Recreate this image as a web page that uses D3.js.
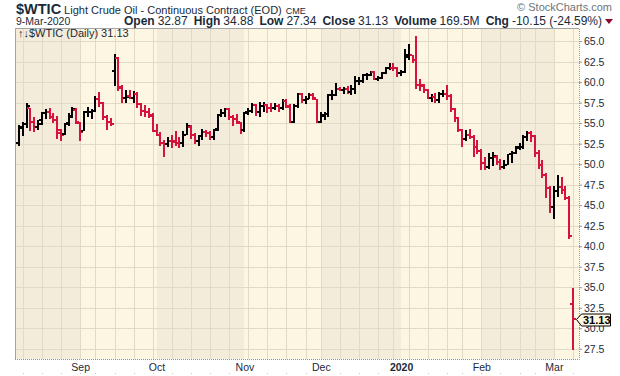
<!DOCTYPE html>
<html>
<head>
<meta charset="utf-8">
<script src="https://cdn.jsdelivr.net/npm/d3@7"></script>
<style>
    body { margin: 0; background: #ffffff; }
    svg { display: block; font-family: "Liberation Sans", Arial, sans-serif; }
</style>
</head>
<body>
<svg id="chart" width="620" height="376"></svg>
<script>
// trading days Aug 9 2019 .. Mar 9 2020 (weekdays minus exchange holidays)
const holidays = ['2019-09-02', '2019-11-28', '2019-12-25', '2020-01-01', '2020-01-20', '2020-02-17'];

const open = [
    52.6, 54.4, 54.9, 56.8, 55.2, 54.5, 55.4, 56.2, 56.3, 55.7, 55.4, 53.8, 53.7, 55.0, 55.9, 56.6,
    55.0, 54.1, 56.3, 56.3, 56.5, 57.9, 57.4, 55.8, 55.1, 61.4, 62.9, 59.4, 58.1, 58.3, 58.1, 58.6, 57.3, 56.5, 56.4, 56.0,
    54.1, 53.6, 52.6, 52.5, 52.8, 52.8, 52.6, 52.6, 53.6, 54.5, 53.6, 52.8, 53.4, 53.9, 53.8, 53.3, 54.3, 56.0, 56.2, 56.7, 55.8, 55.5, 55.0,
    54.2, 56.3, 56.5, 57.2, 56.4, 57.1, 57.2, 56.9, 56.8, 57.1, 56.8, 57.7, 57.0, 55.2, 57.1, 58.6, 57.8, 58.0, 58.4, 57.9,
    55.2, 55.9, 56.1, 58.4, 58.4, 59.2, 59.0, 59.2, 58.8, 59.2, 60.1, 60.2, 60.9, 60.9, 61.2, 60.4, 60.5, 61.1, 61.7, 61.7, 61.7,
    61.1, 61.2, 63.3, 63.3, 62.7, 59.6, 59.6, 59.0, 58.1, 58.2, 57.8, 58.5, 58.5, 58.3, 56.7, 55.6, 54.2, 53.1, 53.5, 53.3, 52.1,
    51.6, 50.1, 49.6, 50.7, 50.9, 50.3, 49.6, 49.9, 51.2, 51.4, 52.0, 52.1, 53.3, 53.8, 53.4, 51.4, 49.9, 48.7, 47.1,
    44.8, 46.7, 47.2, 46.8, 45.9, 32.9
];
const high = [
    54.8, 55.1, 57.5, 56.9, 55.7, 55.4, 56.4, 56.7, 56.9, 56.2, 55.9, 54.3, 55.0, 56.2, 57.0, 56.8,
    55.1, 56.5, 57.0, 56.7, 58.3, 58.8, 57.6, 56.0, 55.6, 63.4, 63.1, 59.7, 59.0, 59.0, 58.9, 58.8, 57.4, 57.2, 56.9, 56.2,
    54.9, 53.9, 52.9, 53.3, 53.5, 54.0, 53.3, 54.1, 55.0, 54.8, 53.8, 53.5, 54.3, 54.2, 54.1, 54.3, 56.1, 56.7, 56.9, 56.8, 56.0, 56.1, 55.2,
    56.3, 56.9, 57.5, 57.3, 57.6, 57.6, 57.3, 57.4, 57.5, 57.3, 57.9, 58.0, 57.3, 57.3, 58.7, 58.7, 58.3, 58.7, 58.7, 58.0,
    56.3, 56.3, 58.6, 59.0, 59.9, 59.4, 59.4, 59.5, 59.6, 60.7, 60.6, 61.0, 61.1, 61.4, 61.4, 60.7, 61.2, 61.8, 62.3, 62.3, 61.9,
    61.5, 64.1, 64.7, 63.3, 65.65, 60.4, 59.8, 59.2, 58.6, 58.7, 58.8, 59.0, 59.7, 58.5, 56.8, 55.8, 54.3, 54.2, 54.3, 53.6, 52.9,
    51.9, 50.9, 51.4, 51.5, 51.1, 50.6, 50.5, 51.3, 51.6, 52.2, 52.6, 53.5, 54.0, 54.0, 53.5, 51.7, 50.5, 48.9, 47.3,
    47.4, 48.7, 48.4, 47.3, 46.1, 34.88
];
const low = [
    52.2, 53.4, 54.4, 54.1, 53.9, 54.2, 54.8, 55.5, 55.5, 55.0, 53.1, 52.8, 53.6, 54.7, 55.6, 54.9,
    52.8, 54.0, 55.7, 55.5, 56.4, 57.0, 55.4, 54.2, 54.6, 59.5, 58.9, 57.4, 57.4, 57.9, 57.5, 56.8, 55.9, 55.8, 55.6, 53.9,
    53.4, 52.2, 50.9, 52.1, 52.0, 52.2, 52.0, 52.1, 53.5, 53.1, 52.4, 52.2, 53.0, 53.3, 52.9, 53.0, 54.0, 55.7, 55.8, 55.4, 54.6, 54.9, 53.7,
    53.9, 56.0, 56.2, 55.9, 55.8, 56.3, 56.2, 56.4, 56.6, 56.4, 56.6, 56.9, 55.0, 55.0, 56.9, 57.5, 57.3, 57.9, 57.8, 55.0,
    55.0, 55.4, 55.8, 57.8, 58.3, 58.9, 58.6, 58.6, 58.4, 58.6, 59.7, 59.9, 60.3, 60.7, 60.3, 60.2, 60.4, 61.0, 61.5, 61.4, 60.6,
    60.7, 61.1, 62.7, 62.3, 59.2, 58.9, 58.7, 57.9, 57.6, 57.4, 57.5, 58.2, 57.8, 56.4, 55.1, 53.9, 52.1, 52.8, 53.1, 50.9, 51.3,
    49.3, 49.3, 49.4, 49.8, 49.9, 49.3, 49.4, 49.9, 50.2, 51.3, 51.7, 51.9, 52.8, 52.7, 50.9, 49.4, 48.3, 45.9, 44.0,
    43.3, 46.0, 46.4, 45.6, 40.9, 27.34
];
const close = [
    54.5, 54.9, 57.1, 55.2, 54.5, 54.9, 56.2, 56.3, 55.7, 55.4, 54.2, 53.6, 54.9, 55.8, 56.7, 55.1,
    53.9, 56.3, 56.3, 56.5, 57.9, 57.4, 55.8, 55.1, 54.9, 62.9, 59.3, 58.1, 58.13, 58.1, 58.6, 57.3, 56.5, 56.4, 55.9, 54.1,
    53.6, 52.6, 52.45, 52.8, 52.75, 52.63, 52.59, 53.55, 54.7, 53.6, 52.8, 53.4, 53.9, 53.8, 53.3, 54.2, 56.0, 56.2, 56.7, 55.8, 55.5, 55.1, 54.2,
    56.2, 56.5, 57.2, 56.4, 57.15, 57.24, 56.9, 56.8, 57.1, 56.8, 57.7, 57.05, 55.2, 57.1, 58.6, 57.8, 58.0, 58.4, 58.1, 55.2,
    56.0, 56.1, 58.43, 58.43, 59.2, 59.0, 59.2, 58.8, 59.2, 60.1, 60.2, 60.9, 60.9, 61.2, 60.4, 60.5, 61.1, 61.68, 61.72, 61.68, 61.1,
    61.2, 63.05, 63.27, 62.7, 59.6, 59.56, 59.0, 58.1, 58.2, 57.8, 58.5, 58.54, 58.3, 56.7, 55.6, 54.2, 53.1, 53.5, 53.3, 52.1, 51.6,
    50.1, 49.6, 50.75, 50.95, 50.3, 49.6, 49.9, 51.2, 51.4, 52.05, 52.05, 53.3, 53.8, 53.4, 51.4, 49.9, 48.7, 47.1, 44.8,
    46.75, 47.2, 46.8, 45.9, 41.28, 31.13
];
const priorClose = 52.54; // Aug 8, before the first bar
const priceTicks = [27.5, 30, 32.5, 35, 37.5, 40, 42.5, 45, 47.5, 50, 52.5, 55, 57.5, 60, 62.5, 65];
const quote = [
    ['Open', '32.87'], ['High', '34.88'], ['Low', '27.34'],
    ['Close', '31.13'], ['Volume', '169.5M'], ['Chg', '-10.15 (-24.59%)']
];

const svg = d3.select('#chart');
const plot = { left: 15, right: 579, top: 28, bottom: 359 };
const fmtDay = d3.timeFormat('%Y-%m-%d');
const ink = '#1b2a38';

const dates = d3.timeDay.range(new Date(2019, 7, 9), new Date(2020, 2, 10))
    .filter(d => d.getDay() % 6 !== 0 && !holidays.includes(fmtDay(d)));

const bars = dates.map((d, i) => ({
    date: d,
    open: open[i],
    high: high[i],
    low: low[i],
    close: close[i],
    down: close[i] < (i ? close[i - 1] : priorClose)
}));

const x = d3.scalePoint()
    .domain(dates.map(fmtDay))
    .range([19, 573]);
const y = d3.scaleLinear()
    .domain([26.25, 66.6])
    .range([plot.bottom, plot.top]);
const px = d => Math.round(x(fmtDay(d)));

const monthStarts = dates.filter((d, i) => i === 0 || d.getMonth() !== dates[i - 1].getMonth());
const weekStarts = dates.filter((d, i) => i > 0 && +d3.timeMonday.floor(d) !== +d3.timeMonday.floor(dates[i - 1]));

// alternating month shading
const bands = monthStarts.map((d, i) => ({
    x0: i === 0 ? plot.left : px(d),
    x1: i < monthStarts.length - 1 ? px(monthStarts[i + 1]) : plot.right,
    dark: i % 2 === 0
}));
svg.append('g')
    .selectAll('rect')
    .data(bands)
    .enter()
    .append('rect')
    .attr('x', d => d.x0)
    .attr('y', plot.top)
    .attr('width', d => d.x1 - d.x0)
    .attr('height', plot.bottom - plot.top)
    .attr('fill', d => d.dark ? '#f4ecdb' : '#fdf6e3');

// grid
const grid = svg.append('g').attr('stroke', '#e3dac6').attr('stroke-width', 1);
grid.selectAll('line.h')
    .data(priceTicks)
    .enter()
    .append('line')
    .attr('x1', plot.left)
    .attr('x2', plot.right)
    .attr('y1', d => Math.round(y(d)) + 0.5)
    .attr('y2', d => Math.round(y(d)) + 0.5);
grid.selectAll('line.v')
    .data(weekStarts)
    .enter()
    .append('line')
    .attr('x1', d => px(d) + 0.5)
    .attr('x2', d => px(d) + 0.5)
    .attr('y1', plot.top)
    .attr('y2', plot.bottom);

// frame
svg.append('path')
    .attr('d', `M${plot.left + 0.5},${plot.bottom}V${plot.top + 0.5}H${plot.right}`)
    .attr('fill', 'none')
    .attr('stroke', '#a4a4a4');
svg.append('path')
    .attr('d', `M${plot.left},${plot.bottom + 0.5}H${plot.right + 0.5}V${plot.top}`)
    .attr('fill', 'none')
    .attr('stroke', '#8c9496')
    .attr('stroke-dasharray', '1,1');

// OHLC bars
const barG = svg.append('g')
    .selectAll('g')
    .data(bars)
    .enter()
    .append('g')
    .attr('fill', d => d.down ? '#d5133c' : '#000000');
barG.append('rect')
    .attr('x', d => px(d.date) - 1)
    .attr('y', d => Math.round(y(d.high)))
    .attr('width', 2)
    .attr('height', d => Math.max(2, Math.round(y(d.low)) - Math.round(y(d.high))));
barG.append('rect')
    .attr('x', d => px(d.date) - 3)
    .attr('y', d => Math.round(y(d.open)) - 1)
    .attr('width', 2)
    .attr('height', 2);
barG.append('rect')
    .attr('x', d => px(d.date) + 1)
    .attr('y', d => Math.round(y(d.close)) - 1)
    .attr('width', 2)
    .attr('height', 2);

// y axis on the right
const yAxis = svg.append('g')
    .attr('transform', `translate(${plot.right},0)`)
    .call(d3.axisRight(y).tickValues(priceTicks).tickFormat(d3.format('.1f')).tickSize(3).tickPadding(2));
yAxis.select('.domain').remove();
yAxis.selectAll('.tick line').attr('stroke', '#8c9496');
yAxis.selectAll('.tick text')
    .attr('fill', ink)
    .style('font-size', '10.5px')
    .style('font-family', '"Liberation Sans", Arial, sans-serif');

// x axis month labels
const xAxis = svg.append('g')
    .attr('transform', `translate(0,${plot.bottom})`)
    .call(d3.axisBottom(x)
        .tickValues(monthStarts.slice(1).map(fmtDay))
        .tickFormat(s => {
            const d = d3.timeParse('%Y-%m-%d')(s);
            return d.getMonth() === 0 ? d3.timeFormat('%Y')(d) : d3.timeFormat('%b')(d);
        })
        .tickSize(0)
        .tickPadding(5));
xAxis.select('.domain').remove();
xAxis.selectAll('.tick text')
    .attr('fill', ink)
    .style('font-size', '10.5px')
    .style('font-family', '"Liberation Sans", Arial, sans-serif')
    .style('font-weight', s => s.slice(5, 7) === '01' ? 'bold' : 'normal');

svg.append('g')
    .selectAll('rect')
    .data(weekStarts)
    .enter()
    .append('rect')
    .attr('x', d => px(d))
    .attr('y', 373)
    .attr('width', 1)
    .attr('height', 1)
    .attr('fill', '#c4c4c4');

// last price marker
const lastY = Math.round(y(close[close.length - 1]));
svg.append('path')
    .attr('d', `M${plot.right - 2.5},${lastY + 0.5}l5,-5.5h29v12h-29z`)
    .attr('fill', '#fdf6e3')
    .attr('stroke', '#000000');
svg.append('text')
    .attr('x', plot.right + 4)
    .attr('y', lastY + 4.5)
    .attr('font-size', 11)
    .attr('font-weight', 'bold')
    .attr('fill', '#000000')
    .text(d3.format('.2f')(close[close.length - 1]));

// legend inside the plot
svg.append('text')
    .attr('x', plot.left + 3)
    .attr('y', plot.top + 9)
    .attr('font-size', 11)
    .attr('fill', ink)
    .text('↑↓$WTIC (Daily) 31.13');

// header
const title = svg.append('text')
    .attr('x', plot.left + 1)
    .attr('y', 14)
    .attr('fill', ink);
title.append('tspan').attr('font-size', 14.5).attr('font-weight', 'bold').text('$WTIC');
title.append('tspan').attr('dx', 3).attr('font-size', 11).text('Light Crude Oil - Continuous Contract (EOD)');
title.append('tspan').attr('dx', 4).attr('font-size', 9).text('CME');

svg.append('text')
    .attr('x', plot.left + 1)
    .attr('y', 25)
    .attr('font-size', 10.5)
    .attr('fill', ink)
    .text('9-Mar-2020');

const line2 = svg.append('text')
    .attr('x', 602)
    .attr('y', 25)
    .attr('text-anchor', 'end')
    .attr('fill', ink);
quote.forEach(([label, value], i) => {
    line2.append('tspan').attr('dx', i ? 6 : 0).attr('font-size', 12).attr('font-weight', 'bold').text(label);
    line2.append('tspan').attr('dx', 3).attr('font-size', 12).text(value);
});
svg.append('path')
    .attr('d', 'M605,19h8l-4,5z')
    .attr('fill', '#8b0a2a');

svg.append('text')
    .attr('x', 612)
    .attr('y', 11)
    .attr('text-anchor', 'end')
    .attr('font-size', 11)
    .attr('fill', '#6d7478')
    .text('© StockCharts.com');
</script>
</body>
</html>
